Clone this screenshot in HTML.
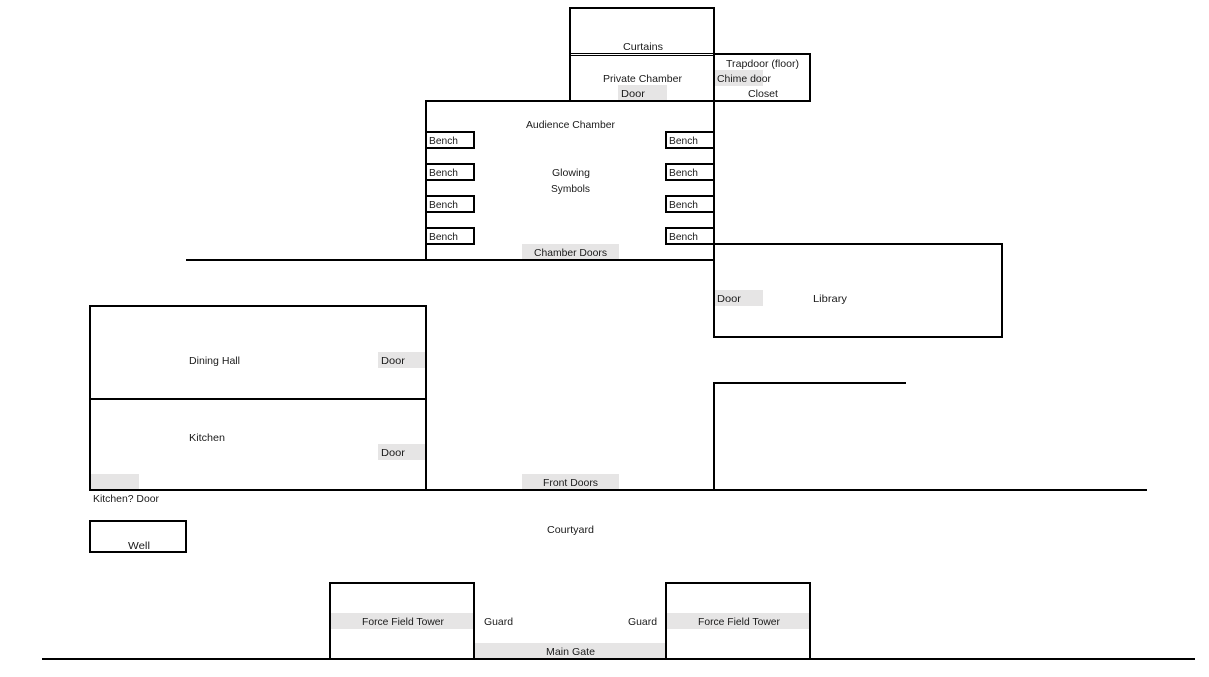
<!DOCTYPE html>
<html><head><meta charset="utf-8"><style>
html,body{margin:0;padding:0;background:#fff;width:1209px;height:677px;overflow:hidden}
svg{display:block}
text{font-family:"Liberation Sans",sans-serif;font-size:10.5px;fill:#1a1a1a}
.l{stroke:#000;stroke-width:2;fill:none}
.g{fill:#e6e5e5}
</style></head><body>
<svg width="1209" height="677" viewBox="0 0 1209 677" xmlns="http://www.w3.org/2000/svg">
<!-- grey fills -->
<rect class="g" x="618" y="85" width="49" height="16"/>
<rect class="g" x="715" y="70" width="48" height="16"/>
<rect class="g" x="522" y="244" width="97" height="16"/>
<rect class="g" x="715" y="290" width="48" height="16"/>
<rect class="g" x="378" y="352" width="48" height="16"/>
<rect class="g" x="378" y="444" width="48" height="16"/>
<rect class="g" x="91" y="474" width="48" height="16"/>
<rect class="g" x="522" y="474" width="97" height="16"/>
<rect class="g" x="331" y="613" width="143" height="16"/>
<rect class="g" x="667" y="613" width="143" height="16"/>
<rect class="g" x="475" y="643" width="190" height="17"/>
<!-- top chambers -->
<rect class="l" x="570" y="8" width="144" height="93"/>
<path class="l" stroke-width="1" style="stroke-width:1" d="M570 53.5H714M570 55.5H714"/>
<path class="l" d="M714 54H810V101H714"/>
<!-- audience chamber -->
<rect class="l" x="426" y="101" width="288" height="159"/>
<rect class="l" x="426" y="132" width="48" height="16"/>
<rect class="l" x="426" y="164" width="48" height="16"/>
<rect class="l" x="426" y="196" width="48" height="16"/>
<rect class="l" x="426" y="228" width="48" height="16"/>
<rect class="l" x="666" y="132" width="48" height="16"/>
<rect class="l" x="666" y="164" width="48" height="16"/>
<rect class="l" x="666" y="196" width="48" height="16"/>
<rect class="l" x="666" y="228" width="48" height="16"/>
<path class="l" d="M186 260H426"/>
<!-- library -->
<rect class="l" x="714" y="244" width="288" height="93"/>
<path class="l" d="M714 260V270"/>
<!-- east wall -->
<path class="l" d="M906 383H714V490"/>
<!-- dining / kitchen -->
<rect class="l" x="90" y="306" width="336" height="184"/>
<path class="l" d="M90 399H426"/>
<!-- courtyard wall -->
<path class="l" d="M90 490H1147"/>
<!-- well -->
<rect class="l" x="90" y="521" width="96" height="31"/>
<!-- towers -->
<rect class="l" x="330" y="583" width="144" height="76"/>
<rect class="l" x="666" y="583" width="144" height="76"/>
<path class="l" d="M42 659H1195"/>
<!-- labels -->
<g lengthAdjust="spacingAndGlyphs">
<text x="623" y="50" textLength="40" lengthAdjust="spacingAndGlyphs">Curtains</text>
<text x="726" y="67" textLength="73" lengthAdjust="spacingAndGlyphs">Trapdoor (floor)</text>
<text x="603" y="82" textLength="79" lengthAdjust="spacingAndGlyphs">Private Chamber</text>
<text x="717" y="82" textLength="54" lengthAdjust="spacingAndGlyphs">Chime door</text>
<text x="621" y="97" textLength="24" lengthAdjust="spacingAndGlyphs">Door</text>
<text x="748" y="97" textLength="30" lengthAdjust="spacingAndGlyphs">Closet</text>
<text x="526" y="128" textLength="89" lengthAdjust="spacingAndGlyphs">Audience Chamber</text>
<text x="429" y="144" textLength="29" lengthAdjust="spacingAndGlyphs">Bench</text>
<text x="669" y="144" textLength="29" lengthAdjust="spacingAndGlyphs">Bench</text>
<text x="429" y="176" textLength="29" lengthAdjust="spacingAndGlyphs">Bench</text>
<text x="669" y="176" textLength="29" lengthAdjust="spacingAndGlyphs">Bench</text>
<text x="429" y="208" textLength="29" lengthAdjust="spacingAndGlyphs">Bench</text>
<text x="669" y="208" textLength="29" lengthAdjust="spacingAndGlyphs">Bench</text>
<text x="429" y="240" textLength="29" lengthAdjust="spacingAndGlyphs">Bench</text>
<text x="669" y="240" textLength="29" lengthAdjust="spacingAndGlyphs">Bench</text>
<text x="552" y="176" textLength="38" lengthAdjust="spacingAndGlyphs">Glowing</text>
<text x="551" y="192" textLength="39" lengthAdjust="spacingAndGlyphs">Symbols</text>
<text x="534" y="256" textLength="73" lengthAdjust="spacingAndGlyphs">Chamber Doors</text>
<text x="717" y="302" textLength="24" lengthAdjust="spacingAndGlyphs">Door</text>
<text x="813" y="302" textLength="34" lengthAdjust="spacingAndGlyphs">Library</text>
<text x="189" y="364" textLength="51" lengthAdjust="spacingAndGlyphs">Dining Hall</text>
<text x="381" y="364" textLength="24" lengthAdjust="spacingAndGlyphs">Door</text>
<text x="189" y="441" textLength="36" lengthAdjust="spacingAndGlyphs">Kitchen</text>
<text x="381" y="456" textLength="24" lengthAdjust="spacingAndGlyphs">Door</text>
<text x="543" y="486" textLength="55" lengthAdjust="spacingAndGlyphs">Front Doors</text>
<text x="93" y="502" textLength="66" lengthAdjust="spacingAndGlyphs">Kitchen? Door</text>
<text x="547" y="533" textLength="47" lengthAdjust="spacingAndGlyphs">Courtyard</text>
<text x="128" y="549" textLength="22" lengthAdjust="spacingAndGlyphs">Well</text>
<text x="362" y="625" textLength="82" lengthAdjust="spacingAndGlyphs">Force Field Tower</text>
<text x="484" y="625" textLength="29" lengthAdjust="spacingAndGlyphs">Guard</text>
<text x="628" y="625" textLength="29" lengthAdjust="spacingAndGlyphs">Guard</text>
<text x="698" y="625" textLength="82" lengthAdjust="spacingAndGlyphs">Force Field Tower</text>
<text x="546" y="655" textLength="49" lengthAdjust="spacingAndGlyphs">Main Gate</text>
</g>
</svg>
</body></html>
